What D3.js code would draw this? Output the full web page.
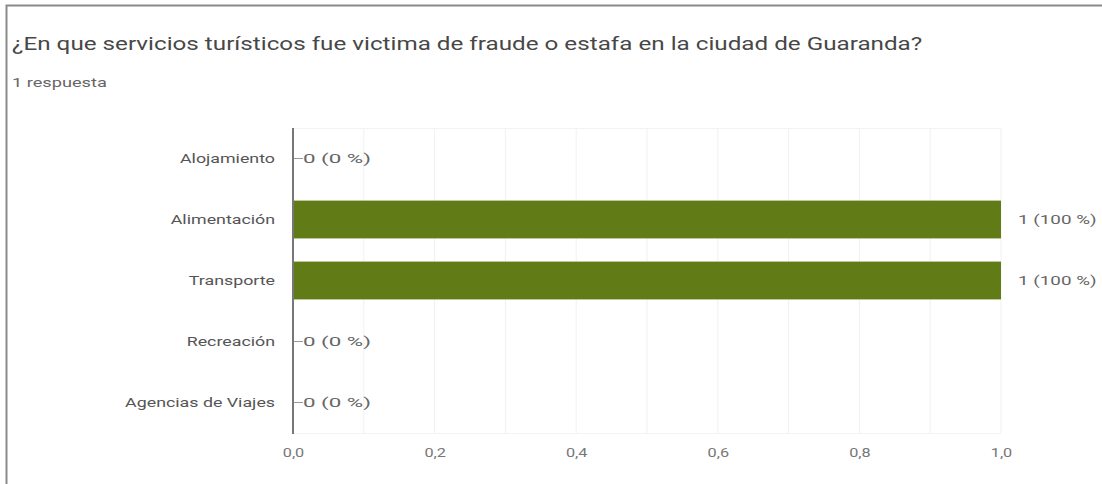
<!DOCTYPE html>
<html><head><meta charset="utf-8">
<script src="https://cdn.jsdelivr.net/npm/d3@7"></script>
<style>
html,body{margin:0;padding:0;background:#fff;}
svg{display:block;font-family:Roboto,Arial,sans-serif;}
</style></head>
<body><svg id="c" width="1102" height="484"></svg>
<script>
const categories = ["Alojamiento","Alimentación","Transporte","Recreación","Agencias de Viajes"];
const counts = [0,1,1,0,0];
const percents = [0,100,100,0,0];
const xTicks = [0,0.2,0.4,0.6,0.8,1.0];
const gridTicks = [0.1,0.2,0.3,0.4,0.5,0.6,0.7,0.8,0.9,1.0];
const title = "¿En que servicios turísticos fue victima de fraude o estafa en la ciudad de Guaranda?";
const subtitle = "1 respuesta";

const SX = 1.37; // horizontal stretch of the reference image text
const svg = d3.select("#c");
function stext(g, x, y, str, size, fill, anchor, sx){
  sx = sx || SX;
  return g.append("text").attr("transform",`translate(${x},${y}) scale(${sx},1)`)
    .attr("font-size",size).attr("fill",fill).attr("text-anchor",anchor||"start").text(str);
}
// frame
svg.append("path").attr("d","M6.5,484 V5.5 H1102").attr("fill","none").attr("stroke","#8a8a8a").attr("stroke-width",2);

stext(svg,12,50,title,17.5,"#474747","start",1.385);
stext(svg,12,87,subtitle,13,"#666","start",1.4);

const x = d3.scaleLinear().domain([0,1]).range([293,1001]);
const y = d3.scaleBand().domain(categories).range([128,433]).paddingInner(0.38).paddingOuter(0.19);

// gridlines
svg.append("g").selectAll("line").data(gridTicks).join("line")
  .attr("x1",d=>x(d)).attr("x2",d=>x(d)).attr("y1",128).attr("y2",433)
  .attr("stroke","#f1f1f1").attr("stroke-width",1);
svg.append("line").attr("x1",x(0)).attr("x2",x(1)).attr("y1",128.5).attr("y2",128.5).attr("stroke","#f3f3f3");
svg.append("line").attr("x1",x(0)).attr("x2",x(1)).attr("y1",433.5).attr("y2",433.5).attr("stroke","#f3f3f3");

// bars
const data = categories.map((c,i)=>({c,v:counts[i],p:percents[i]}));
svg.append("g").selectAll("rect").data(data.filter(d=>d.v>0)).join("rect")
  .attr("x",x(0)).attr("y",d=>y(d.c)).attr("width",d=>x(d.v)-x(0)).attr("height",y.bandwidth())
  .attr("fill","#617b16");

// zero stubs
svg.append("g").selectAll("line").data(data.filter(d=>d.v===0)).join("line")
  .attr("x1",x(0)).attr("x2",x(0)+10).attr("y1",d=>y(d.c)+y.bandwidth()/2).attr("y2",d=>y(d.c)+y.bandwidth()/2)
  .attr("stroke","#999").attr("stroke-width",1);

// value labels
const gv = svg.append("g");
data.forEach(d=>{
  stext(gv, d.v>0? x(d.v)+17 : x(0)+10, y(d.c)+y.bandwidth()/2+4.5, `${d.v} (${d.p} %)`, 13, "#666", "start", d.v>0?1.45:1.72);
});

// y axis
const yAxis = d3.axisLeft(y).tickSize(0).tickPadding(18);
const gy = svg.append("g").attr("transform",`translate(${x(0)},0)`).call(yAxis);
gy.select(".domain").remove();
gy.selectAll("text").attr("font-size",13).attr("fill","#555").attr("font-family","Roboto,Arial,sans-serif")
  .attr("x",-18/SX).attr("transform",`scale(${SX},1)`);
svg.append("line").attr("x1",x(0)).attr("x2",x(0)).attr("y1",128).attr("y2",434).attr("stroke","#777").attr("stroke-width",2);

// x axis
const xAxis = d3.axisBottom(x).tickValues(xTicks).tickSize(0).tickPadding(14)
  .tickFormat(d=>d3.format(".1f")(d).replace(".",","));
const gx = svg.append("g").attr("transform","translate(0,434)").call(xAxis);
gx.select(".domain").remove();
gx.selectAll("text").attr("font-size",12.5).attr("fill","#777").attr("font-family","Roboto,Arial,sans-serif")
  .attr("transform","scale(1.3,1)");
</script></body></html>
